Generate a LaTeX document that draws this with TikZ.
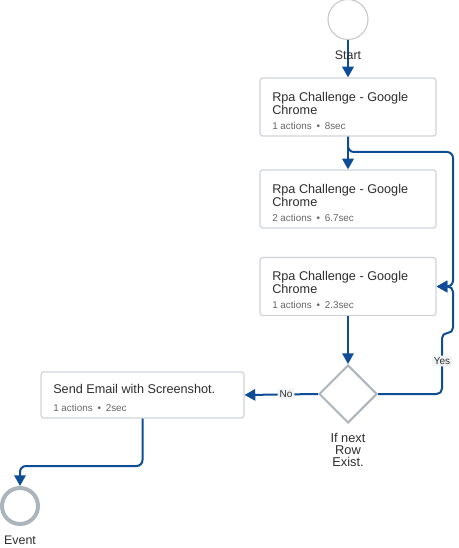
\documentclass[tikz,border=0pt]{standalone}
\usepackage{fontspec}
\setmainfont{Liberation Sans}
\usepackage{xcolor}
\usetikzlibrary{arrows.meta,shapes.geometric}

\definecolor{flowblue}{HTML}{0E4C96}
\definecolor{boxgray}{HTML}{D0D4D8}
\definecolor{shapegray}{HTML}{ADB5BC}
\definecolor{startgray}{HTML}{C4C8CC}
\definecolor{textdark}{HTML}{2E2E2E}
\definecolor{textgray}{HTML}{666666}
\definecolor{labelbg}{HTML}{F1F4F7}

\newcommand{\dotsep}{\hspace{3.6pt}\textbullet\hspace{3.6pt}}

\tikzset{
	flow/.style={draw=flowblue, line width=1.5pt, -{Triangle[width=8.5pt,length=8pt]}},
	stepbox/.style={draw=boxgray, line width=0.9pt, rounded corners=2pt, fill=white, minimum width=132pt, minimum height=43.5pt, inner sep=0pt},
	titletxt/.style={font=\fontsize{9.5}{8.5}\selectfont, text=textdark, align=left, inner sep=0pt},
	subtxt/.style={font=\fontsize{7.4}{8}\selectfont, text=textgray, inner sep=0pt},
	lbl/.style={font=\fontsize{9.3}{9}\selectfont, text=textdark, inner sep=0pt},
	edgelbl/.style={font=\fontsize{7.5}{8}\selectfont, text=textdark, fill=labelbg, rounded corners=2pt, inner sep=1.5pt}
}

\begin{document}
\begin{tikzpicture}[x=0.75pt,y=-0.75pt]
		\useasboundingbox (0,0) rectangle (458,548);
		
		%Events
		\node[circle, draw=startgray, line width=0.8pt, minimum size=30pt, inner sep=0pt] (start) at (348,19.5) {};
		\node[circle, draw=shapegray, line width=3pt, minimum size=27pt, inner sep=0pt] (event) at (20,506) {};
		
		%Steps
		\node[stepbox] (box1) at (348,107) {};
		\node[stepbox] (box2) at (348,199) {};
		\node[stepbox] (box3) at (348,286.5) {};
		\node[stepbox, minimum width=152.25pt, minimum height=34.5pt] (mail) at (142.5,395) {};
		
		\node[diamond, draw=shapegray, line width=1.5pt, fill=white, minimum width=43.5pt, minimum height=43.5pt, inner sep=0pt] (cond) at (348,394) {};
		
		\coordinate (loopR) at (453,152);
		\coordinate (yesA) at (442,333);
		\coordinate (yesB) at (453,333);
		\coordinate (drop) at (20,466);
		
		%Connectors
		\draw[flow] (start) -- (box1);
		\draw[flow] (box1) -- (box2);
		\draw[flow, rounded corners=4.5pt] (box1.south) |- (loopR) |- (box3.east);
		\draw[flow] (box3) -- (cond);
		\draw[flow, rounded corners=4pt] (cond.east) -| (yesA) -- (yesB) |- (box3.east);
		\draw[flow] (cond.west) -- (mail.east);
		\draw[flow, rounded corners=4.5pt] (mail.south) |- (drop) -- (event);
		
		\node[edgelbl] (yes) at (442,361) {Yes};
		\node[edgelbl] (no) at (286,394) {No};
		
		%Texts
		\node[lbl, anchor=base] (startlbl) at (348,59.3) {Start};
		\node[lbl, anchor=base] (eventlbl) at (20,544) {Event};
		\node[lbl, align=center, font=\fontsize{9.6}{9}\selectfont, anchor=north] (condlbl) at (348,433) {If next\\Row\\Exist.};
		
		\node[titletxt, anchor=north west] (box1title) at (272,92.3) {Rpa Challenge - Google\\Chrome};
		\node[subtxt, anchor=base west] (box1sub) at (272,129.3) {1 actions\dotsep 8sec};
		
		\node[titletxt, anchor=north west] (box2title) at (272,184.3) {Rpa Challenge - Google\\Chrome};
		\node[subtxt, anchor=base west] (box2sub) at (272,221.5) {2 actions\dotsep 6.7sec};
		
		\node[titletxt, anchor=north west] (box3title) at (272,271.3) {Rpa Challenge - Google\\Chrome};
		\node[subtxt, anchor=base west] (box3sub) at (272,308.5) {1 actions\dotsep 2.3sec};
		
		\node[titletxt, anchor=base west] (mailtitle) at (53,393.3) {Send Email with Screenshot.};
		\node[subtxt, anchor=base west] (mailsub) at (53,411.7) {1 actions\dotsep 2sec};
		
\end{tikzpicture}
\end{document}
